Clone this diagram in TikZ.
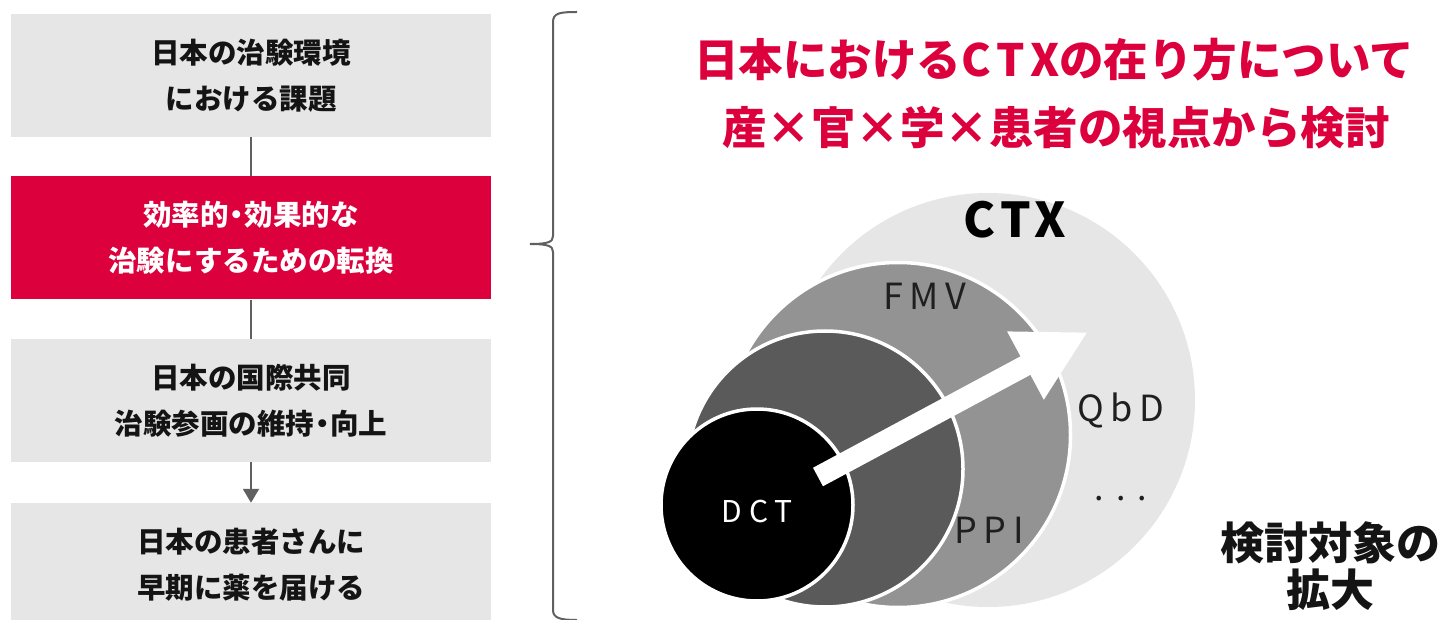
\documentclass[tikz,border=0pt]{standalone}
\usepackage{fontspec}
\setmainfont{Noto Sans CJK JP}
\newfontfamily\labfont{Noto Sans CJK JP}[LetterSpace=18]
\newfontfamily\ctxfont{Noto Sans CJK JP}[LetterSpace=10]
\newfontfamily\tctxfont{Noto Sans CJK JP}[LetterSpace=14]
\newfontfamily\dctfont{Noto Sans CJK JP}[LetterSpace=22]
\newfontfamily\dotfont{Noto Sans CJK JP}[LetterSpace=36]
\usetikzlibrary{arrows.meta}
\definecolor{ctxred}{HTML}{DC003C}
\definecolor{boxgray}{HTML}{E6E6E6}
\definecolor{midgray}{HTML}{939393}
\definecolor{deepgray}{HTML}{5A5A5A}
\definecolor{linegray}{HTML}{606060}
\newcommand{\nd}{\kern-0.22em・\kern-0.22em}
\begin{document}
\begin{tikzpicture}[x=1pt,y=-1pt,
  stepbox/.style={rectangle, minimum width=480pt, minimum height=123pt, inner sep=0pt,
    fill=boxgray, align=center, text=black!92,
    font=\bfseries\fontsize{28.5}{46}\selectfont},
  redbox/.style={stepbox, fill=ctxred, text=white},
  link/.style={draw=linegray, line width=2pt},
  ring/.style={circle, inner sep=0pt, draw=white, line width=3.5pt},
  lab/.style={font=\labfont\fontsize{36}{40}\selectfont, text=black!88},
  title/.style={font=\bfseries\fontsize{44.5}{50}\selectfont, text=ctxred},
]
\useasboundingbox (0,0) rectangle (1446,620);
\clip (0,0) rectangle (1446,620);

% left flow
\node[stepbox] (b1) at (251,75.5) {日本の治験環境\\における課題};
\node[redbox]  (b2) at (251,238) {効率的\nd 効果的な\\治験にするための転換};
\node[stepbox] (b3) at (251,400.5) {日本の国際共同\\治験参画の維持\nd 向上};
\node[stepbox] (b4) at (251,564.5) {日本の患者さんに\\早期に薬を届ける};
\draw[link] (b1) -- (b2);
\draw[link] (b2) -- (b3);
\draw[link, -{Triangle[width=16pt,length=14pt]}] (b3) -- (b4);

% brace
\draw[draw=linegray, line width=2pt]
  (577,12) .. controls (560,12) and (553,13) .. (553,22)
  -- (553,236) .. controls (553,242) and (548,244) .. (530,244)
  .. controls (548,244) and (553,246) .. (553,252)
  -- (553,610) .. controls (553,618) and (560,620) .. (577,620);

% title
\node[title] (t1) at (1054,60) {日本における{\tctxfont\bfseries CTX}の在り方について};
\node[title] (t2) at (1056,128) {産×官×学×患者の視点から検討};

% circles
\node[circle, inner sep=0pt, fill=boxgray, minimum size=414pt] (cctx) at (988,400) {};
\node[ring, fill=midgray, minimum size=345pt] (cfmv) at (898,435) {};
\node[ring, fill=deepgray, minimum size=276pt] (cmid) at (825,469) {};
\node[ring, fill=black, minimum size=192pt] (cdct) at (757,505) {};

% arrow
\coordinate (atail) at (818,477);
\coordinate (atip) at (1088,332);
\draw[white, line width=21pt, -{Triangle[width=72pt 0 0,length=71pt 0 0]}] (atail) -- (atip);

% labels
\node[font=\ctxfont\bfseries\fontsize{48}{50}\selectfont, text=black] (lctx) at (1015,220) {CTX};
\node[lab] (lfmv) at (925,296) {FMV};
\node[lab] (lqbd) at (1121,410) {QbD};
\node[font=\dotfont\fontsize{34}{40}\selectfont, text=black!88] (ldots) at (1121,499) {...};
\node[lab] (lppi) at (989,530) {PPI};
\node[font=\dctfont\fontsize{30}{32}\selectfont, text=white] (ldct) at (757,512) {DCT};

% side label
\node[font=\bfseries\fontsize{44}{47}\selectfont, align=center, text=black!92] (side) at (1330,566) {検討対象の\\拡大};
\end{tikzpicture}
\end{document}
